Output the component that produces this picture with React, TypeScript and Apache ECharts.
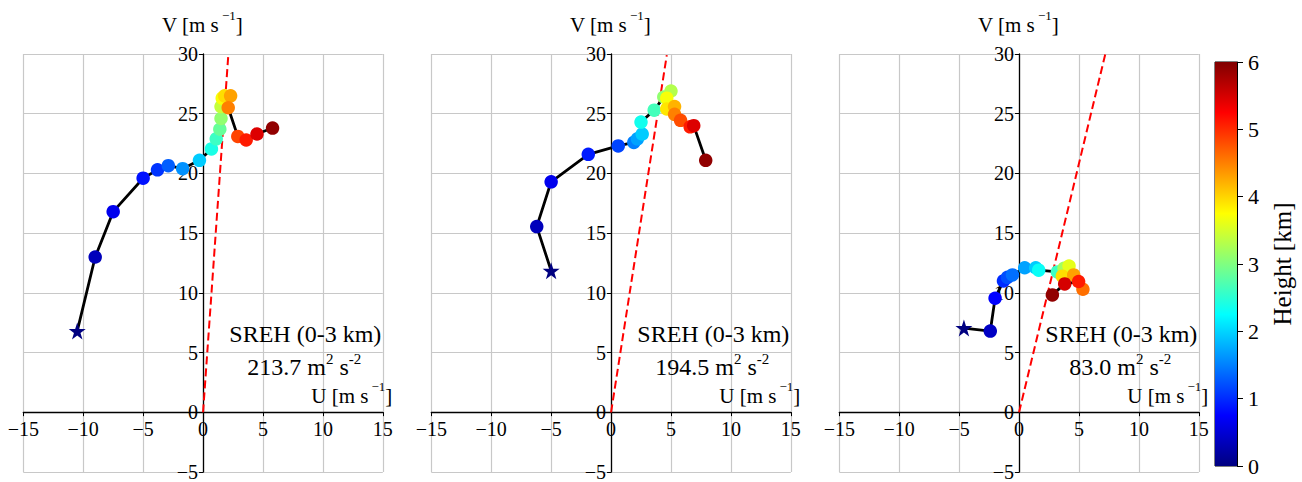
import React, { useEffect, useRef } from 'react';
import * as echarts from 'echarts';

const FONT = 'Liberation Serif, Times New Roman, serif';

// Panel 1 hodograph (U, V in m/s; height in km)
const p1U = [-10.5, -9.0, -7.5, -5.0, -3.8, -2.9, -1.7, -0.3, 0.7, 1.1, 1.4, 1.5, 1.5, 1.6, 1.8, 2.3, 2.1, 2.9, 3.6, 4.5, 5.8];
const p1V = [6.8, 13.0, 16.8, 19.6, 20.3, 20.65, 20.4, 21.1, 22.05, 22.9, 23.7, 24.6, 25.6, 26.3, 26.5, 26.5, 25.5, 23.1, 22.8, 23.3, 23.8];
const p1H = [0, 0.35, 0.65, 0.85, 1.05, 1.3, 1.6, 1.95, 2.4, 2.6, 2.85, 3.1, 3.4, 3.7, 3.95, 4.3, 4.5, 4.85, 5.1, 5.45, 5.9];

// Panel 2
const p2U = [-5.0, -6.2, -5.0, -1.9, 0.6, 1.9, 2.2, 2.6, 2.5, 3.6, 4.4, 5.0, 4.65, 4.65, 5.3, 5.3, 5.8, 6.6, 6.9, 7.9];
const p2V = [11.85, 15.55, 19.3, 21.6, 22.3, 22.6, 22.9, 23.3, 24.3, 25.3, 26.4, 26.9, 26.3, 25.4, 25.6, 24.95, 24.45, 23.9, 24.0, 21.1];
const p2H = [0, 0.35, 0.65, 0.9, 1.15, 1.5, 1.7, 1.95, 2.35, 2.65, 3.1, 3.3, 3.7, 3.9, 4.2, 4.5, 4.8, 5.1, 5.45, 5.9];

// Panel 3
const p3U = [-4.6, -2.4, -2.0, -1.3, -0.97, -0.55, 0.47, 1.39, 1.64, 3.2, 3.75, 4.17, 3.61, 4.56, 5.33, 4.97, 3.81, 2.78];
const p3V = [7.05, 6.8, 9.55, 11.0, 11.3, 11.5, 12.1, 12.1, 11.9, 11.75, 12.05, 12.25, 11.4, 11.5, 10.3, 10.95, 10.75, 9.83];
const p3H = [0, 0.4, 0.75, 1.0, 1.2, 1.4, 1.7, 1.95, 2.3, 2.6, 3.2, 3.6, 3.95, 4.3, 4.6, 5.1, 5.5, 5.9];

// Storm-motion dashed line end points
const stormU = [2.1, 4.65, 7.2];
const stormV = [29.8, 29.9, 30];

const srehValues = ['213.7', '194.5', '83.0'];

const JET = ['#000080', '#0000ff', '#0080ff', '#00ffff', '#80ff80', '#ffff00', '#ff8000', '#ff0000', '#800000'];
const cbTicks = [0, 1, 2, 3, 4, 5, 6];

const X_MIN = -15, X_MAX = 15, Y_MIN = -5, Y_MAX = 30, STEP = 5;

const STAR = 'path://M12,0 L14.9,8.6 L24,8.6 L16.6,14 L19.4,22.8 L12,17.4 L4.6,22.8 L7.4,14 L0,8.6 L9.1,8.6 Z';

const PANEL_LEFT = [23.3, 431.3, 839.3];
const GRID_TOP = 54;
const GRID_W = 359.5;
const GRID_H = 419;

const fmt = (v: number) => (v < 0 ? '\u2212' + Math.abs(v) : String(v));

export default function App() {
  const ref = useRef<HTMLDivElement>(null);
  useEffect(() => {
    const chart = echarts.init(ref.current!, undefined, { renderer: 'svg' });
    const panels = [
      { u: p1U, v: p1V, h: p1H },
      { u: p2U, v: p2V, h: p2H },
      { u: p3U, v: p3V, h: p3H },
    ];
    const grids: any[] = [];
    const xAxes: any[] = [];
    const yAxes: any[] = [];
    const series: any[] = [];
    const graphics: any[] = [];
    const scatterIdx: number[] = [];

    // axes drawn through the origin
    const xOffset = -GRID_H * (0 - Y_MIN) / (Y_MAX - Y_MIN);
    const yOffset = -GRID_W * (0 - X_MIN) / (X_MAX - X_MIN);

    const labelStyle = { fontFamily: FONT, fontSize: 20, color: '#000' };
    const rich = {
      m: { fontSize: 21, fontFamily: FONT, fill: '#000', lineHeight: 26, verticalAlign: 'bottom' },
      s: { fontSize: 13, fontFamily: FONT, fill: '#000', lineHeight: 13, verticalAlign: 'top', padding: [0, 0, 0, 3] },
      b: { fontSize: 24, fontFamily: FONT, fill: '#000', lineHeight: 27, verticalAlign: 'bottom' },
      t: { fontSize: 15, fontFamily: FONT, fill: '#000', lineHeight: 15, verticalAlign: 'top' },
    };

    panels.forEach((p, i) => {
      const L = PANEL_LEFT[i];
      grids.push({ left: L, top: GRID_TOP, width: GRID_W, height: GRID_H, show: false });
      xAxes.push({
        type: 'value', gridIndex: i, min: X_MIN, max: X_MAX, interval: STEP, offset: xOffset,
        axisLine: { onZero: false, lineStyle: { color: '#000', width: 1.3 } },
        axisTick: { show: true, length: 4, lineStyle: { color: '#000' } },
        axisLabel: { ...labelStyle, margin: 7, formatter: fmt },
        splitLine: { show: true, lineStyle: { color: '#c8c8c8', width: 1.2 } },
      });
      yAxes.push({
        type: 'value', gridIndex: i, min: Y_MIN, max: Y_MAX, interval: STEP, offset: yOffset,
        axisLine: { onZero: false, lineStyle: { color: '#000', width: 1.3 } },
        axisTick: { show: true, length: 4, lineStyle: { color: '#000' } },
        axisLabel: { ...labelStyle, margin: 5, formatter: fmt },
        splitLine: { show: true, lineStyle: { color: '#c8c8c8', width: 1.2 } },
      });
      series.push({
        type: 'line', xAxisIndex: i, yAxisIndex: i, silent: true, z: 2,
        data: [[0, 0], [stormU[i], stormV[i]]], symbol: 'none',
        lineStyle: { color: '#ff0000', width: 2, type: [8, 4] },
      });
      series.push({
        type: 'line', xAxisIndex: i, yAxisIndex: i, silent: true, z: 3,
        data: p.u.map((u, k) => [u, p.v[k]]), symbol: 'none',
        lineStyle: { color: '#000', width: 2.8 },
      });
      scatterIdx.push(series.length);
      series.push({
        type: 'scatter', xAxisIndex: i, yAxisIndex: i, z: 4,
        itemStyle: { opacity: 1 },
        data: p.u.map((u, k) => ({
          value: [u, p.v[k], p.h[k]],
          symbol: k === 0 ? STAR : 'circle',
          symbolSize: k === 0 ? 17 : 13.5,
        })),
      });

      graphics.push({
        type: 'text', x: L + 179, y: 22, z: 10,
        style: { text: '{m|V [m s}{s|\u22121}{m|]}', rich, align: 'center', verticalAlign: 'middle', fill: '#000' },
      });
      graphics.push({
        type: 'text', x: L + 369, y: 393, z: 10,
        style: { text: '{m|U [m s}{s|\u22121}{m|]}', rich, align: 'right', verticalAlign: 'middle', fill: '#000' },
      });
      graphics.push({
        type: 'text', x: L + 282, y: 334, z: 10,
        style: { text: 'SREH (0-3 km)', fontSize: 24, fontFamily: FONT, align: 'center', verticalAlign: 'middle', fill: '#000' },
      });
      graphics.push({
        type: 'text', x: L + 281, y: 365, z: 10,
        style: { text: `{b|${srehValues[i]} m}{t|2}{b| s}{t|-2}`, rich, align: 'center', verticalAlign: 'middle', fill: '#000' },
      });
    });

    // colorbar
    grids.push({ left: 1215, top: 62, width: 22, height: 404, show: true, borderColor: '#000', borderWidth: 1, backgroundColor: 'transparent' });
    xAxes.push({ type: 'category', gridIndex: 3, data: ['h'], show: false });
    yAxes.push({
      type: 'value', gridIndex: 3, min: cbTicks[0], max: cbTicks[cbTicks.length - 1], interval: 1, position: 'right',
      axisLine: { show: true, onZero: false, lineStyle: { color: '#000', width: 1 } },
      axisTick: { show: true, length: 6, lineStyle: { color: '#000' } },
      axisLabel: { fontFamily: FONT, fontSize: 22, color: '#000', margin: 11 },
      splitLine: { show: false },
    });
    series.push({
      type: 'bar', xAxisIndex: 3, yAxisIndex: 3, silent: true, barWidth: '100%',
      data: [cbTicks[cbTicks.length - 1]],
      itemStyle: {
        color: new echarts.graphic.LinearGradient(0, 1, 0, 0, JET.map((c, k) => ({ offset: k / (JET.length - 1), color: c }))),
      },
    });
    graphics.push({
      type: 'text', x: 1282, y: 264, rotation: Math.PI / 2, z: 10,
      style: { text: 'Height [km]', fontSize: 25, fontFamily: FONT, align: 'center', verticalAlign: 'middle', fill: '#000' },
    });

    chart.setOption({
      animation: false,
      backgroundColor: '#fff',
      textStyle: { fontFamily: FONT, color: '#000' },
      grid: grids,
      xAxis: xAxes,
      yAxis: yAxes,
      visualMap: {
        type: 'continuous', show: false, min: 0, max: 6, dimension: 2,
        seriesIndex: scatterIdx, inRange: { color: JET },
      },
      series,
      graphic: graphics,
    });
    return () => chart.dispose();
  }, []);
  return <div ref={ref} style={{ position: 'absolute', left: 0, top: 0, width: 1302, height: 482 }} />;
}
